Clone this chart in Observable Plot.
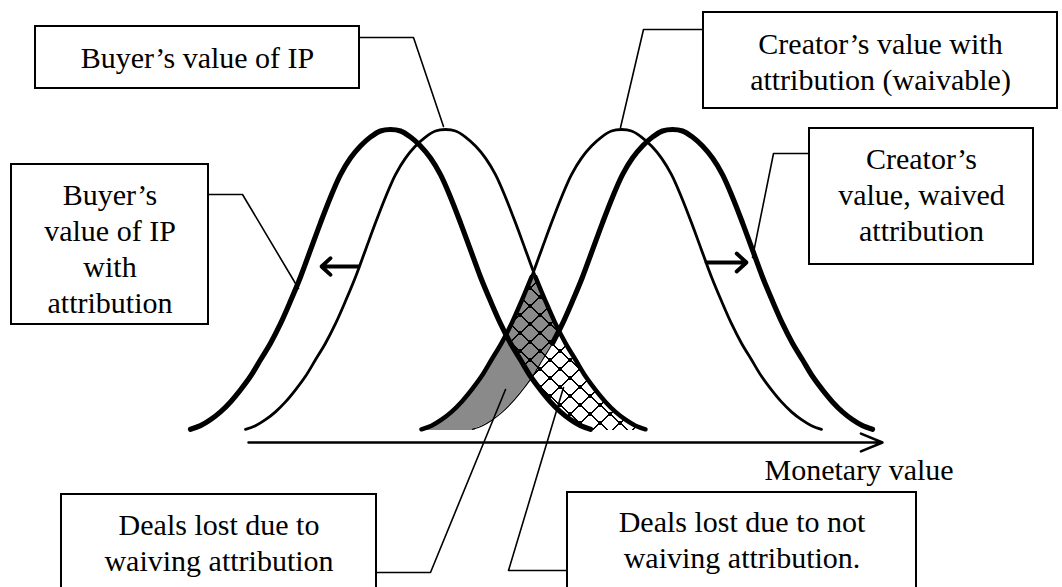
<!DOCTYPE html>
<html><head><meta charset="utf-8">
<script src="https://cdn.jsdelivr.net/npm/d3@7"></script>
<script src="https://cdn.jsdelivr.net/npm/@observablehq/plot@0.6"></script>
<style>html,body{margin:0;padding:0;background:#fff;overflow:hidden;} #chart svg{display:block;}</style>
</head><body><div id="chart"></div>
<script>
// ---------------- DATA ----------------
// Shape of one bell curve: height (fraction of peak) at a distance from its centre
const profileOffset = [0, 10, 20, 30, 40, 50, 60, 70, 80, 90, 100, 110, 120, 130, 140, 150, 160, 170, 180, 190, 200];
const profileHeight = [1.00, 0.995, 0.975, 0.945, 0.905, 0.85, 0.775, 0.69, 0.60, 0.51, 0.43, 0.355, 0.29, 0.235, 0.18, 0.135, 0.095, 0.062, 0.036, 0.016, 0.004];
// The four distributions and their centres on the monetary-value axis
const curveNames = ["Buyer’s value of IP with attribution", "Buyer’s value of IP", "Creator’s value with attribution (waivable)", "Creator’s value, waived attribution"];
const curveCenters = [390, 445, 621, 672];
// Texts
const boxTexts = [
  "Buyer’s value of IP",
  "Buyer’s\nvalue of IP\nwith\nattribution",
  "Creator’s value with\nattribution (waivable)",
  "Creator’s\nvalue, waived\nattribution",
  "Deals lost due to\nwaiving attribution",
  "Deals lost due to not\nwaiving attribution."
];
const axisLabel = "Monetary value";

// ---------------- LAYOUT ----------------
const W = 1062, H = 587, BASE = 430, PEAK = 129;
const yv = p => (BASE - p) / (BASE - PEAK);   // pixel row -> value units
const FONT = "'Liberation Serif', 'Times New Roman', serif";
const boxLayout = [
  {x1: 35, y1: 26, x2: 359, y2: 88, cx: 197, cy: 56},
  {x1: 11, y1: 164, x2: 208, y2: 324, cx: 109.5, cy: 247},
  {x1: 703, y1: 12, x2: 1057, y2: 108, cx: 880, cy: 60},
  {x1: 809, y1: 128, x2: 1033, y2: 264, cx: 921, cy: 193},
  {x1: 61, y1: 494, x2: 376, y2: 600, cx: 218.5, cy: 541},
  {x1: 567, y1: 492, x2: 916, y2: 600, cx: 741.5, cy: 538}
];
const boxes = boxLayout.map((b, i) => ({...b, t: boxTexts[i]}));
const leaderLayout = [
  [[359, 37], [413, 37], [443, 126]],
  [[208, 194], [242, 194], [298, 288]],
  [[703, 29], [643, 29], [620, 127]],
  [[809, 153], [773, 153], [752, 257]],
  [[376, 572], [430, 572], [505, 389]],
  [[567, 570], [508, 570], [563, 387]]
];
const leaders = leaderLayout.flatMap((pts, id) => pts.map(([x, y]) => ({id, x, y: yv(y)})));

function bell(center, name) {
  const pts = [];
  for (let i = profileOffset.length - 1; i > 0; i--) pts.push({x: center - profileOffset[i], y: profileHeight[i], curve: name});
  for (let i = 0; i < profileOffset.length; i++) pts.push({x: center + profileOffset[i], y: profileHeight[i], curve: name});
  return pts;
}
const [A, B, C, D] = curveCenters.map((c, k) => bell(c, curveNames[k]));
const crossBC = (curveCenters[1] + curveCenters[2]) / 2;
const crossBD = (curveCenters[1] + curveCenters[3]) / 2;
const cv = "catmull-rom";
const TOP = 1.6, BOT = -0.6;

const chart = Plot.plot({
  width: W, height: H, margin: 0,
  x: {domain: [0, W], range: [0, W], axis: null},
  y: {domain: [0, 1], range: [BASE, PEAK], axis: null},
  style: {fontFamily: FONT, background: "white", overflow: "hidden"},
  marks: [
    // 0,1: shaded regions (clipped below)
    Plot.areaY(C, {x: "x", y: "y", fill: "#8a8a8a", curve: cv}),
    Plot.areaY(C, {x: "x", y: "y", fill: "url(#hatch)", curve: cv}),
    // 2..6: clip geometries (moved into <clipPath>s after rendering)
    Plot.areaY(B, {x: "x", y: "y", fill: "black", curve: cv}),
    Plot.areaY(D, {x: "x", y1: "y", y2: TOP, fill: "black", curve: cv}),
    Plot.rect([0], {x1: 300, x2: D[0].x + 3, y1: BOT, y2: TOP, fill: "black"}),
    Plot.areaY(A, {x: "x", y1: "y", y2: TOP, fill: "black", curve: cv}),
    Plot.rect([0], {x1: A[A.length - 1].x - 3, x2: 760, y1: BOT, y2: TOP, fill: "black"}),
    // curves
    Plot.line(B, {x: "x", y: "y", stroke: "black", strokeWidth: 2.8, curve: cv}),
    Plot.line(B, {x: "x", y: "y", filter: d => d.x >= crossBC, stroke: "black", strokeWidth: 4.5, curve: cv}),
    Plot.line(C, {x: "x", y: "y", stroke: "black", strokeWidth: 2.8, curve: cv}),
    Plot.line(C, {x: "x", y: "y", filter: d => d.x <= crossBC, stroke: "black", strokeWidth: 4.5, curve: cv}),
    Plot.line(D, {x: "x", y: "y", filter: d => d.x <= crossBD + 5, stroke: "black", strokeWidth: 1.2, curve: cv}),
    Plot.line(D, {x: "x", y: "y", filter: d => d.x >= crossBD - 10, stroke: "black", strokeWidth: 5.2, curve: cv}),
    Plot.line(A, {x: "x", y: "y", stroke: "black", strokeWidth: 5.2, curve: cv}),
    // leader lines
    Plot.line(leaders, {x: "x", y: "y", z: "id", stroke: "black", strokeWidth: 1.6, curve: "linear"}),
    // boxes
    Plot.rect(boxes, {x1: "x1", x2: "x2", y1: d => yv(d.y1), y2: d => yv(d.y2), fill: "white", stroke: "black", strokeWidth: 2}),
    Plot.text(boxes, {x: "cx", y: d => yv(d.cy), text: "t", fontSize: 30, lineHeight: 1.2, fill: "black", fontFamily: FONT}),
    // shift arrows
    Plot.arrow([0], {x1: 358, x2: 321, y1: yv(266), y2: yv(266), stroke: "black", strokeWidth: 3.8, headAngle: 85, headLength: 12}),
    Plot.arrow([0], {x1: 706, x2: 746, y1: yv(262), y2: yv(262), stroke: "black", strokeWidth: 3.8, headAngle: 85, headLength: 12}),
    // axis
    Plot.arrow([0], {x1: 248, x2: 882, y1: yv(442), y2: yv(442), stroke: "black", strokeWidth: 2.5, headAngle: 45, headLength: 14}),
    Plot.text([axisLabel], {x: 764, y: yv(470), text: d => d, textAnchor: "start", fontSize: 30, fill: "black", fontFamily: FONT})
  ]
});

// ---- pattern and clip paths ----
const svg = d3.select(chart);
const markGs = Array.from(chart.children).filter(n => n.tagName.toLowerCase() === "g");
const defs = svg.insert("defs", ":first-child");
const pat = defs.append("pattern").attr("id", "hatch").attr("patternUnits", "userSpaceOnUse")
  .attr("width", 20).attr("height", 18);
pat.append("path").attr("d", "M0,9 L10,0 L20,9 L10,18 Z")
  .attr("fill", "none").attr("stroke", "black").attr("stroke-width", 1.6)
  .attr("shape-rendering", "crispEdges");

function clipFrom(id, idx) {
  const cp = defs.append("clipPath").attr("id", id);
  idx.forEach(i => {
    const g = markGs[i];
    const t = g.getAttribute("transform");
    g.querySelectorAll("path, rect").forEach(el => {
      const c = el.cloneNode(true);
      if (t) c.setAttribute("transform", t);
      cp.node().appendChild(c);
    });
    g.remove();
  });
}
clipFrom("underB", [2]);
clipFrom("aboveD", [3, 4]);
clipFrom("aboveA", [5, 6]);

const grayG = d3.select(markGs[0]);
grayG.attr("clip-path", "url(#aboveD)");
grayG.selectAll("path").attr("clip-path", "url(#underB)");
const hatchG = d3.select(markGs[1]);
hatchG.attr("clip-path", "url(#aboveA)");
hatchG.selectAll("path").attr("clip-path", "url(#underB)");

document.getElementById("chart").appendChild(chart);
</script></body></html>
